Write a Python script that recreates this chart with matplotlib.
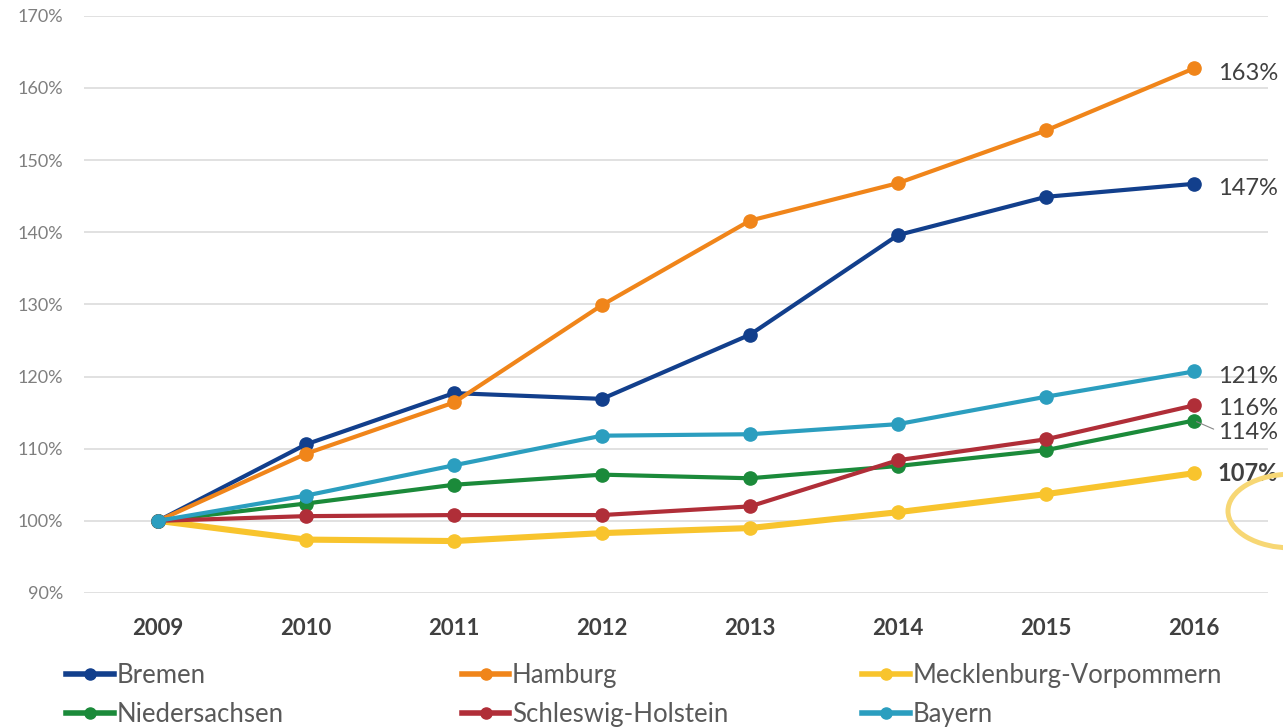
import matplotlib.pyplot as plt
from matplotlib.lines import Line2D
from matplotlib.patches import Ellipse

plt.rcParams['font.family'] = ['Lato', 'DejaVu Sans']

years = [2009, 2010, 2011, 2012, 2013, 2014, 2015, 2016]

bremen = [100, 110.6, 117.7, 116.9, 125.8, 139.6, 144.9, 146.7]
hamburg = [100, 109.3, 116.4, 129.9, 141.6, 146.8, 154.1, 162.7]
meck_vorp = [100, 97.4, 97.2, 98.3, 99.0, 101.2, 103.7, 106.6]
niedersachsen = [100, 102.4, 105.0, 106.4, 105.9, 107.6, 109.8, 113.9]
schleswig_h = [100, 100.65, 100.8, 100.8, 102.0, 108.4, 111.3, 116.0]
bayern = [100, 103.5, 107.7, 111.8, 112.0, 113.4, 117.2, 120.7]

names = ['Bremen', 'Hamburg', 'Mecklenburg-Vorpommern',
         'Niedersachsen', 'Schleswig-Holstein', 'Bayern']
series = [bremen, hamburg, meck_vorp, niedersachsen, schleswig_h, bayern]
colors = ['#123F8C', '#F0851A', '#F8C42D', '#1B8A3A', '#B02E38', '#2B9EBF']
widths = [3.0, 3.0, 4.4, 3.0, 3.0, 3.0]

# end label offsets (points) and weights
label_dy = [-3, -4, 0, -8.5, -2, -3.5]
label_bold = [False, False, True, False, False, False]

fig = plt.figure(figsize=(12.83, 7.28), dpi=100)
ax = fig.add_axes([0.0655, 0.18544, 0.9228, 0.793])

for name, vals, c, lw in zip(names, series, colors, widths):
    ax.plot(years, vals, color=c, lw=lw, marker='o', markersize=9.5,
            solid_capstyle='round', label=name, clip_on=False)

for vals, dy, bold in zip(series, label_dy, label_bold):
    ax.annotate(f'{round(vals[-1])}%', xy=(years[-1], vals[-1]),
                xytext=(17, dy), textcoords='offset points',
                ha='left', va='center', fontsize=17, color='#404040',
                fontweight='bold' if bold else 'normal',
                annotation_clip=False, zorder=5)

# small leader for the 114% label
ax.annotate('', xy=(years[-1], niedersachsen[-1]), xytext=(16, -7),
            textcoords='offset points',
            arrowprops=dict(arrowstyle='-', color='#888888', lw=0.8))

ax.set_xlim(2008.5, 2016.5)
ax.set_ylim(90, 170)
ax.set_yticks(range(90, 171, 10))
ax.set_yticklabels([f'{v}%' for v in range(90, 171, 10)])
ax.set_xticks(years)
ax.set_xticklabels([str(y) for y in years], fontweight='bold')
ax.tick_params(axis='y', length=0, pad=15, labelsize=13, labelcolor='#7F7F7F')
ax.tick_params(axis='x', length=0, pad=18, labelsize=16, labelcolor='#404040')
ax.grid(axis='y', color='#D9D9D9', lw=1.1)
ax.set_axisbelow(True)
for s in ax.spines.values():
    s.set_visible(False)

# legend: three columns, two rows each
legend_cols = [[0, 3], [1, 4], [2, 5]]
col_x = [0.0417, 0.350, 0.662]
for cols, x in zip(legend_cols, col_x):
    hs = [Line2D([], [], color=colors[i], lw=4, marker='o', markersize=8)
          for i in cols]
    fig.legend(hs, [names[i] for i in cols], loc='upper left',
               bbox_to_anchor=(x, 0.107), frameon=False,
               fontsize=18.5, handlelength=1.85, handletextpad=0.1,
               labelspacing=0.55, borderpad=0.0, labelcolor='#595959')

# yellow highlight circle at the right edge
fig.add_artist(Ellipse((1292 / 1283, 1 - 511 / 728), 128 / 1283, 74 / 728,
                       transform=fig.transFigure, fill=False,
                       edgecolor='#F7D774', lw=3.6))

fig.savefig('out.png', dpi=100)
